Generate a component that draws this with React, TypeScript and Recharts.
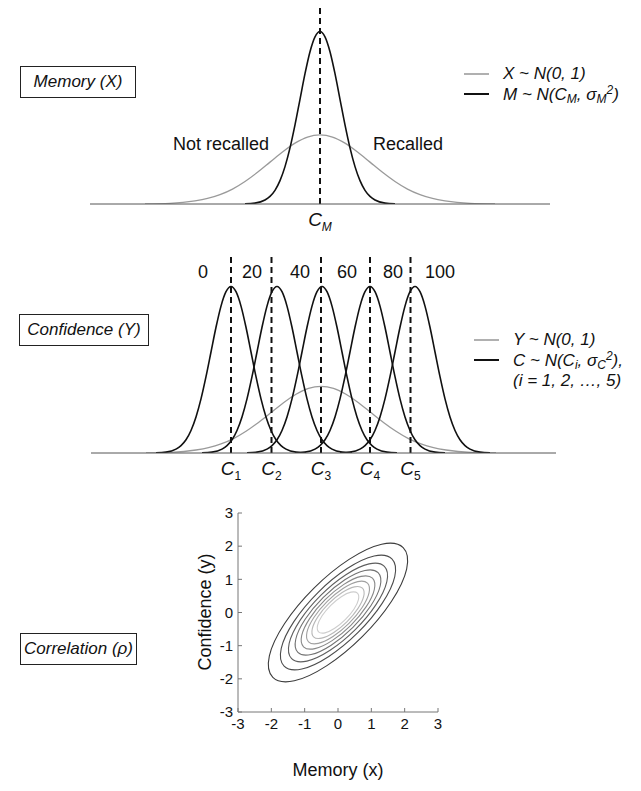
import React from 'react';
import { LineChart, Line, XAxis, YAxis, ReferenceLine, ReferenceDot } from 'recharts';

// ---- data ----

// X ~ N(0,1): height of the wide grey curve at offsets from its centre
const wideOffsets = [-3.5, -3, -2.5, -2.25, -2, -1.75, -1.5, -1.25, -1, -0.75, -0.5, -0.25, 0, 0.25, 0.5, 0.75, 1, 1.25, 1.5, 1.75, 2, 2.25, 2.5, 3, 3.5];
const wideHeights = [0.001, 0.004, 0.018, 0.032, 0.054, 0.086, 0.13, 0.183, 0.242, 0.301, 0.352, 0.387, 0.399, 0.387, 0.352, 0.301, 0.242, 0.183, 0.13, 0.086, 0.054, 0.032, 0.018, 0.004, 0.001];

// narrow black curve (M, C) at offsets from its centre
const narrowOffsets = [-1.5, -1.3, -1.1, -1, -0.9, -0.8, -0.7, -0.6, -0.5, -0.4, -0.3, -0.2, -0.1, 0, 0.1, 0.2, 0.3, 0.4, 0.5, 0.6, 0.7, 0.8, 0.9, 1, 1.1, 1.3, 1.5];
const narrowHeights = [0.001, 0.005, 0.023, 0.044, 0.079, 0.135, 0.216, 0.324, 0.457, 0.605, 0.753, 0.88, 0.966, 0.997, 0.966, 0.88, 0.753, 0.605, 0.457, 0.324, 0.216, 0.135, 0.079, 0.044, 0.023, 0.005, 0.001];

// memory panel
const memoryCentre = 0;

// confidence panel
const confCentres = [-1.8, -0.88, 0.02, 0.98, 1.88];
const confCuts = [-1.8, -0.99, 0, 0.98, 1.79];
const confCutNames = ['1', '2', '3', '4', '5'];
const confLabels = ['0', '20', '40', '60', '80', '100'];
const confLabelX = [-2.36, -1.38, -0.42, 0.52, 1.44, 2.38];

// correlation panel: outer contour shape (unit radius) and the contour radii
const contourShape = [
  [0.94, 0.94], [0.63, 0.99], [0.16, 0.77], [-0.35, 0.35], [-0.77, -0.16], [-0.99, -0.63],
  [-0.94, -0.94], [-0.63, -0.99], [-0.16, -0.77], [0.35, -0.35], [0.77, 0.16], [0.99, 0.63],
];
const contourLevels = [2.08, 1.72, 1.48, 1.28, 1.1, 0.94, 0.78, 0.62];
const axisTicks = [-3, -2, -1, 0, 1, 2, 3];

// ---- styling ----
const FONT = '"Liberation Sans", Arial, Helvetica, sans-serif';
const contourColors = ['#3c3c3c', '#4c4c4c', '#5e5e5e', '#727272', '#888888', '#a0a0a0', '#b8b8b8', '#cdcdcd'];

// closed smooth curve through the points (Catmull-Rom), for the contours
const closedCurve = (context: any) => {
  let pts: number[][] = [];
  return {
    areaStart() {},
    areaEnd() {},
    lineStart() { pts = []; },
    point(x: number, y: number) { pts.push([x, y]); },
    lineEnd() {
      const n = pts.length;
      if (!n) return;
      context.moveTo(pts[0][0], pts[0][1]);
      for (let i = 0; i < n; i++) {
        const p0 = pts[(i - 1 + n) % n], p1 = pts[i], p2 = pts[(i + 1) % n], p3 = pts[(i + 2) % n];
        context.bezierCurveTo(
          p1[0] + (p2[0] - p0[0]) / 6, p1[1] + (p2[1] - p0[1]) / 6,
          p2[0] - (p3[0] - p1[0]) / 6, p2[1] - (p3[1] - p1[1]) / 6,
          p2[0], p2[1]
        );
      }
      context.closePath();
    },
  };
};

const CTick = (props: any) => {
  const { x, y, index, subs, subItalic } = props;
  return (
    <text x={x} y={y + 14} textAnchor="middle" fontFamily={FONT} fontStyle="italic" fontSize={19} fill="#111">
      C<tspan fontSize={12} dy={5} fontStyle={subItalic ? 'italic' : 'normal'}>{subs[index]}</tspan>
    </text>
  );
};

const Box = ({ left, top, width, children }: any) => (
  <div style={{
    position: 'absolute', left, top, width, height: 32, border: '1.5px solid #222',
    display: 'flex', alignItems: 'center', justifyContent: 'center',
    fontFamily: FONT, fontStyle: 'italic', fontSize: 17, color: '#111', boxSizing: 'border-box',
  }}>{children}</div>
);

const LegendRow = ({ left, top, color, children, noLine }: any) => (
  <div style={{ position: 'absolute', left, top, height: 20, display: 'flex', alignItems: 'center', fontFamily: FONT, fontStyle: 'italic', fontSize: 17, color: '#111', whiteSpace: 'nowrap' }}>
    <span style={{ display: 'inline-block', width: 25, height: 0, borderTop: noLine ? 'none' : `2px solid ${color}`, marginRight: 14 }} />
    <span>{children}</span>
  </div>
);

const sub = (s: string) => <sub style={{ fontSize: 12, verticalAlign: -3 }}>{s}</sub>;
const sup = (s: string) => <sup style={{ fontSize: 12, verticalAlign: 6 }}>{s}</sup>;

const App = () => {
  const wideAt = (c: number) => wideOffsets.map((o, i) => ({ x: c + o, y: wideHeights[i] }));
  const narrowAt = (c: number) => narrowOffsets.map((o, i) => ({ x: c + o, y: narrowHeights[i] }));
  const contours = contourLevels.map((r) => contourShape.map(([px, py]) => ({ x: px * r, y: py * r })));

  return (
    <div style={{ position: 'absolute', left: 0, top: 0, width: 641, height: 791, background: '#fff', overflow: 'hidden' }}>
      {/* ---------- Memory panel ---------- */}
      <Box left={20} top={66} width={116}>Memory (X)</Box>
      <LegendRow left={464} top={64} color="#b0b0b0">X ~ N(0, 1)</LegendRow>
      <LegendRow left={464} top={84} color="#111">M ~ N(C{sub('M')}, σ{sub('M')}{sup('2')})</LegendRow>
      <div style={{ position: 'absolute', left: 170, top: 134, width: 102, textAlign: 'center', fontFamily: FONT, fontSize: 18, color: '#111' }}>Not recalled</div>
      <div style={{ position: 'absolute', left: 368, top: 134, width: 80, textAlign: 'center', fontFamily: FONT, fontSize: 18, color: '#111' }}>Recalled</div>

      <LineChart width={460} height={235} margin={{ top: 0, right: 0, bottom: 0, left: 0 }} style={{ position: 'absolute', left: 90, top: 5 }}>
        <XAxis type="number" dataKey="x" domain={[-4.6, 4.6]} allowDataOverflow ticks={[memoryCentre]} interval={0}
          axisLine={{ stroke: '#555', strokeWidth: 1 }} tickLine={false} height={36}
          tick={(p: any) => <CTick {...p} subs={['M']} subItalic />} />
        <YAxis type="number" domain={[0, 1.15]} allowDataOverflow hide />
        <Line data={wideAt(memoryCentre)} dataKey="y" type="monotone" stroke="#9a9a9a" strokeWidth={1.3} dot={false} activeDot={false} isAnimationActive={false} />
        <Line data={narrowAt(memoryCentre)} dataKey="y" type="monotone" stroke="#111" strokeWidth={1.6} dot={false} activeDot={false} isAnimationActive={false} />
        <ReferenceLine x={memoryCentre} stroke="#111" strokeWidth={2} strokeDasharray="6 4" />
      </LineChart>

      {/* ---------- Confidence panel ---------- */}
      <Box left={19} top={314} width={130}>Confidence (Y)</Box>
      <LegendRow left={474} top={330} color="#b0b0b0">Y ~ N(0, 1)</LegendRow>
      <LegendRow left={474} top={350} color="#111">C ~ N(C{sub('i')}, σ{sub('C')}{sup('2')}),</LegendRow>
      <LegendRow left={474} top={371} noLine>(i = 1, 2, …, 5)</LegendRow>

      <LineChart width={465} height={239} margin={{ top: 0, right: 0, bottom: 0, left: 0 }} style={{ position: 'absolute', left: 91, top: 250 }}>
        <XAxis type="number" dataKey="x" domain={[-4.6, 4.7]} allowDataOverflow ticks={confCuts} interval={0}
          axisLine={{ stroke: '#555', strokeWidth: 1 }} tickLine={false} height={36}
          tick={(p: any) => <CTick {...p} subs={confCutNames} />} />
        <YAxis type="number" domain={[0, 1.216]} allowDataOverflow hide />
        <Line data={wideAt(0)} dataKey="y" type="monotone" stroke="#9a9a9a" strokeWidth={1.3} dot={false} activeDot={false} isAnimationActive={false} />
        {confCentres.map((c, i) => (
          <Line key={i} data={narrowAt(c)} dataKey="y" type="monotone" stroke="#111" strokeWidth={1.6} dot={false} activeDot={false} isAnimationActive={false} />
        ))}
        {confCuts.map((c, i) => (
          <ReferenceLine key={'c' + i} segment={[{ x: c, y: 0 }, { x: c, y: 1.18 }]} stroke="#111" strokeWidth={2} strokeDasharray="6 4" />
        ))}
        {confLabels.map((l, i) => (
          <ReferenceDot key={'l' + i} x={confLabelX[i]} y={1.084} r={1} fill="none" stroke="none"
            label={{ value: l, position: 'center', fontSize: 18, fill: '#111', fontFamily: FONT }} />
        ))}
      </LineChart>

      {/* ---------- Correlation panel ---------- */}
      <Box left={20} top={633} width={117}>Correlation (ρ)</Box>
      <div style={{ position: 'absolute', left: 205, top: 612, transform: 'translate(-50%, -50%) rotate(-90deg)', fontFamily: FONT, fontSize: 18, color: '#111', whiteSpace: 'nowrap' }}>Confidence (y)</div>
      <div style={{ position: 'absolute', left: 338, top: 770, transform: 'translate(-50%, -50%)', fontFamily: FONT, fontSize: 18, color: '#111', whiteSpace: 'nowrap' }}>Memory (x)</div>

      <LineChart width={260} height={273} margin={{ top: 8, right: 10, bottom: 0, left: 0 }} style={{ position: 'absolute', left: 188, top: 505 }}>
        <XAxis type="number" dataKey="x" domain={[-3, 3]} allowDataOverflow ticks={axisTicks} interval={0} height={66}
          axisLine={{ stroke: '#777' }} tickLine={{ stroke: '#777' }} tickSize={-4} tickMargin={10}
          tick={{ fontSize: 15, fill: '#111', fontFamily: FONT }} />
        <XAxis xAxisId="top" orientation="top" type="number" domain={[-3, 3]} ticks={axisTicks} interval={0} height={0}
          axisLine={{ stroke: '#777' }} tickLine={{ stroke: '#777' }} tickSize={-4} tick={false} />
        <YAxis type="number" domain={[-3, 3]} allowDataOverflow ticks={axisTicks} interval={0} width={50}
          axisLine={{ stroke: '#777' }} tickLine={{ stroke: '#777' }} tickSize={-4} tickMargin={9}
          tick={{ fontSize: 15, fill: '#111', fontFamily: FONT }} />
        <YAxis yAxisId="right" orientation="right" type="number" domain={[-3, 3]} ticks={axisTicks} interval={0} width={0}
          axisLine={{ stroke: '#777' }} tickLine={{ stroke: '#777' }} tickSize={-4} tick={false} />
        {contours.map((d, i) => (
          <Line key={i} data={d} dataKey="y" type={closedCurve as any} stroke={contourColors[i]} strokeWidth={1.1}
            dot={false} activeDot={false} isAnimationActive={false} />
        ))}
      </LineChart>
    </div>
  );
};

export default App;
